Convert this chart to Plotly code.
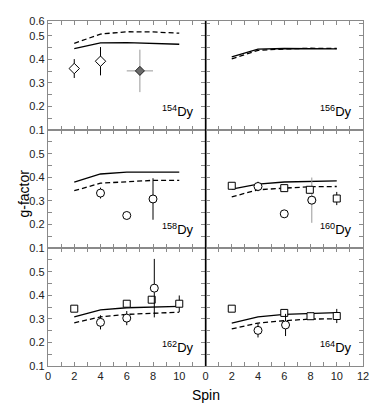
import plotly.graph_objects as go
from plotly.subplots import make_subplots

### Calculated curves (solid / dashed), same spins for every isotope ###
spins        = [2, 4, 6, 8, 10]

dy154_solid  = [0.445, 0.470, 0.471, 0.468, 0.464]
dy154_dash   = [0.468, 0.507, 0.517, 0.516, 0.511]
dy156_solid  = [0.410, 0.443, 0.446, 0.446, 0.444]
dy156_dash   = [0.402, 0.438, 0.444, 0.447, 0.446]
dy158_solid  = [0.379, 0.414, 0.422, 0.422, 0.422]
dy158_dash   = [0.343, 0.375, 0.381, 0.387, 0.387]
dy160_solid  = [0.350, 0.371, 0.380, 0.383, 0.385]
dy160_dash   = [0.317, 0.347, 0.354, 0.360, 0.361]
dy162_solid  = [0.308, 0.338, 0.347, 0.351, 0.353]
dy162_dash   = [0.283, 0.308, 0.319, 0.325, 0.328]
dy164_solid  = [0.282, 0.308, 0.319, 0.323, 0.326]
dy164_dash   = [0.257, 0.282, 0.292, 0.299, 0.300]

### Measured g-factors ###
dy154_dia_x   = [2, 4]
dy154_dia_y   = [0.361, 0.392]
dy154_dia_err = [0.040, 0.060]
dy154_avg_x   = [7]
dy154_avg_y   = [0.351]
dy154_avg_err = [0.090]
dy154_avg_xerr = [1.0]

dy158_circ_x   = [4, 6, 8]
dy158_circ_y   = [0.333, 0.238, 0.308]
dy158_circ_err = [0.023, 0.015, 0.088]

dy160_sq_x     = [2, 6, 7.95, 10]
dy160_sq_y     = [0.364, 0.354, 0.347, 0.310]
dy160_sq_err   = [0.006, 0.010, 0.015, 0.028]
dy160_circ_x   = [4, 6]
dy160_circ_y   = [0.361, 0.245]
dy160_circ_err = [0.020, 0.015]
dy160_gray_x   = [8.1]
dy160_gray_y   = [0.303]
dy160_gray_err = [0.096]

dy162_sq_x     = [2, 6, 7.9, 10]
dy162_sq_y     = [0.343, 0.364, 0.381, 0.364]
dy162_sq_err   = [0.006, 0.012, 0.015, 0.035]
dy162_circ_x   = [4, 6, 8.1]
dy162_circ_y   = [0.285, 0.303, 0.430]
dy162_circ_err = [0.030, 0.030, 0.124]

dy164_sq_x     = [2, 6, 8, 10]
dy164_sq_y     = [0.343, 0.325, 0.311, 0.312]
dy164_sq_err   = [0.005, 0.010, 0.015, 0.030]
dy164_circ_x   = [4, 6.1]
dy164_circ_y   = [0.251, 0.274]
dy164_circ_err = [0.030, 0.047]

isotopes = ["154", "156", "158", "160", "162", "164"]
panels   = [(1, 1), (1, 2), (2, 1), (2, 2), (3, 1), (3, 2)]
curves   = [(dy154_solid, dy154_dash), (dy156_solid, dy156_dash),
            (dy158_solid, dy158_dash), (dy160_solid, dy160_dash),
            (dy162_solid, dy162_dash), (dy164_solid, dy164_dash)]

fig = make_subplots(rows=3, cols=2, horizontal_spacing=0, vertical_spacing=0,
                    row_heights=[111, 120, 120])

for (r, c), (sol, das) in zip(panels, curves):
    fig.add_trace(go.Scatter(x=spins, y=sol, mode='lines',
                             line=dict(color='black', width=1.3)), row=r, col=c)
    fig.add_trace(go.Scatter(x=spins, y=das, mode='lines',
                             line=dict(color='black', width=1.3, dash='5px,3px')), row=r, col=c)

def points(x, y, err, symbol, size, row, col, color='black', fill='white', xerr=None):
    fig.add_trace(go.Scatter(
        x=x, y=y, mode='markers',
        marker=dict(symbol=symbol, size=size, color=fill, line=dict(color=color, width=1)),
        error_y=dict(type='data', array=err, width=0, thickness=1, color=color),
        error_x=dict(type='data', array=xerr, width=0, thickness=1, color=color, visible=xerr is not None),
    ), row=row, col=col)

points(dy154_dia_x, dy154_dia_y, dy154_dia_err, 'diamond', 8, 1, 1)
points(dy154_avg_x, dy154_avg_y, dy154_avg_err, 'diamond', 1, 1, 1,
       color='#999999', fill='#999999', xerr=dy154_avg_xerr)
points(dy154_avg_x, dy154_avg_y, [0], 'diamond', 7, 1, 1, color='#222222', fill='#6a6a6a')
points(dy158_circ_x, dy158_circ_y, dy158_circ_err, 'circle', 8, 2, 1)
points(dy160_gray_x, dy160_gray_y, dy160_gray_err, 'circle', 8, 2, 2, color='#999999')
points(dy160_gray_x, dy160_gray_y, [0], 'circle', 8, 2, 2)
points(dy160_sq_x, dy160_sq_y, dy160_sq_err, 'square', 7, 2, 2)
points(dy160_circ_x, dy160_circ_y, dy160_circ_err, 'circle', 8, 2, 2)
points(dy162_sq_x, dy162_sq_y, dy162_sq_err, 'square', 7, 3, 1)
points(dy162_circ_x, dy162_circ_y, dy162_circ_err, 'circle', 8, 3, 1)
points(dy164_sq_x, dy164_sq_y, dy164_sq_err, 'square', 7, 3, 2)
points(dy164_circ_x, dy164_circ_y, dy164_circ_err, 'circle', 8, 3, 2)

axis_style = dict(showline=True, linecolor='#8a8a8a', linewidth=1.3, mirror='ticks',
                  ticks='inside', ticklen=4, tickcolor='#8a8a8a', showgrid=False,
                  zeroline=False, tickfont=dict(size=11, color='#222222'))

fig.update_xaxes(range=[0, 12], dtick=2, showticklabels=False,
                 minor=dict(ticks='inside', dtick=1, ticklen=4, tickcolor='#8a8a8a'), **axis_style)
fig.update_yaxes(range=[0.1, 0.6], tickvals=[0.1, 0.2, 0.3, 0.4, 0.5], showticklabels=False,
                 minor=dict(ticks='inside', dtick=0.05, ticklen=4, tickcolor='#8a8a8a'), **axis_style)
fig.update_yaxes(range=[0.1, 0.5625], row=1)
fig.update_yaxes(showticklabels=True, col=1)
fig.update_yaxes(tickvals=[0.1, 0.2, 0.3, 0.4, 0.5, 0.5625],
                 ticktext=['0.1', '0.2', '0.3', '0.4', '0.5', '0.6'], row=1, col=1)
fig.update_xaxes(showticklabels=True, row=3)
fig.update_xaxes(tickvals=[0, 2, 4, 6, 8, 10], row=3, col=1)

for (r, c), iso in zip(panels, isotopes):
    fig.add_annotation(x=11.3, y=0.18, xanchor='right', yanchor='middle',
                       text='<sup>' + iso + '</sup>Dy', showarrow=False,
                       font=dict(size=13, color='black'), row=r, col=c)

# black divider between the two columns
fig.add_shape(type='line', xref='paper', yref='paper', x0=0.5, x1=0.5, y0=0, y1=1,
              line=dict(color='black', width=1.3))

fig.add_annotation(xref='paper', yref='paper', x=-0.111, y=0.5, text='g-factor',
                   textangle=-90, showarrow=False, font=dict(size=14, color='black'))
fig.add_annotation(xref='paper', yref='paper', x=0.5, y=-0.083, yanchor='middle',
                   text='Spin', showarrow=False, font=dict(size=14, color='black'))

# the page body adds an 8px margin, so the figure is 8px smaller than the window
fig.update_layout(width=370, height=395, showlegend=False,
                  margin=dict(l=40, r=15, t=7, b=37),
                  font=dict(family='Liberation Sans, Arial, sans-serif'),
                  paper_bgcolor='white', plot_bgcolor='white')

fig.write_html("out.html")
